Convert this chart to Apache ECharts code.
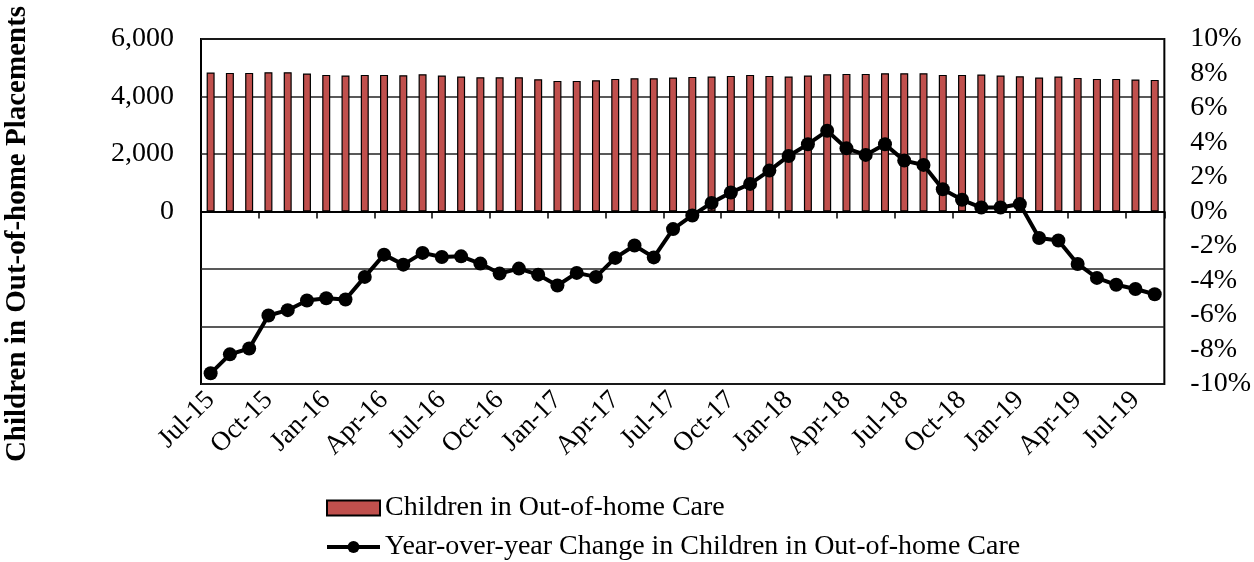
<!DOCTYPE html>
<html>
<head>
<meta charset="utf-8">
<script src="https://cdn.jsdelivr.net/npm/echarts@6/dist/echarts.min.js"></script>
<style>
  html, body { margin: 0; padding: 0; background: #fff; }
  #chart { width: 1254px; height: 562px; }
</style>
</head>
<body>
<div id="chart"></div>
<script>
var months = ['Jul-15', 'Aug-15', 'Sep-15', 'Oct-15', 'Nov-15', 'Dec-15',
  'Jan-16', 'Feb-16', 'Mar-16', 'Apr-16', 'May-16', 'Jun-16',
  'Jul-16', 'Aug-16', 'Sep-16', 'Oct-16', 'Nov-16', 'Dec-16',
  'Jan-17', 'Feb-17', 'Mar-17', 'Apr-17', 'May-17', 'Jun-17',
  'Jul-17', 'Aug-17', 'Sep-17', 'Oct-17', 'Nov-17', 'Dec-17',
  'Jan-18', 'Feb-18', 'Mar-18', 'Apr-18', 'May-18', 'Jun-18',
  'Jul-18', 'Aug-18', 'Sep-18', 'Oct-18', 'Nov-18', 'Dec-18',
  'Jan-19', 'Feb-19', 'Mar-19', 'Apr-19', 'May-19', 'Jun-19',
  'Jul-19', 'Aug-19'];

// children in out-of-home care
var children = [4834, 4821, 4821, 4845, 4845, 4800, 4751, 4730, 4751, 4751,
  4741, 4775, 4730, 4696, 4671, 4671, 4671, 4602, 4543, 4543,
  4567, 4613, 4637, 4637, 4661, 4682, 4696, 4717, 4751, 4717,
  4696, 4730, 4775, 4786, 4786, 4810, 4810, 4810, 4751, 4751,
  4765, 4730, 4706, 4661, 4696, 4647, 4613, 4613, 4592, 4578];

// year-over-year change, percent
var yoyChange = [-9.38, -8.28, -7.94, -6.03, -5.72, -5.16, -5.03, -5.10, -3.79, -2.50,
  -3.08, -2.40, -2.64, -2.60, -3.02, -3.60, -3.31, -3.66, -4.29, -3.56,
  -3.79, -2.69, -1.97, -2.66, -1.02, -0.23, 0.50, 1.10, 1.60, 2.37,
  3.22, 3.90, 4.68, 3.66, 3.28, 3.90, 2.95, 2.70, 1.29, 0.68,
  0.23, 0.23, 0.43, -1.54, -1.68, -3.04, -3.85, -4.25, -4.49, -4.80];

var leftTicks = {min: -6000, max: 6000, step: 2000};
var rightTicks = {min: -10, max: 10, step: 2};

var barName = 'Children in Out-of-home Care';
var lineName = 'Year-over-year Change in Children in Out-of-home Care';
var font = '"Liberation Serif", "Times New Roman", serif';

var chart = echarts.init(document.getElementById('chart'));

var option = {
  animation: false,
  textStyle: {fontFamily: font, color: '#000'},
  grid: {
    left: 201, right: 88, top: 39, bottom: 178,
    show: true, borderColor: '#000', borderWidth: 2,
    containLabel: false
  },
  graphic: [{
    type: 'text',
    x: 18, y: 234,
    rotation: Math.PI / 2,
    style: {
      text: 'Children in Out-of-home Placements',
      font: 'bold 29px ' + font,
      fill: '#000',
      align: 'center',
      verticalAlign: 'middle'
    }
  }],
  legend: {
    orient: 'vertical',
    left: 325, top: 494,
    padding: 0,
    itemWidth: 53, itemHeight: 15,
    itemGap: 11,
    textStyle: {fontFamily: font, fontSize: 28, lineHeight: 28, color: '#000'},
    data: [
      {name: barName, icon: 'rect'},
      {name: lineName, lineStyle: {width: 4, color: '#000'}}
    ]
  },
  xAxis: [{
    type: 'category',
    data: months,
    position: 'bottom',
    axisLine: {show: false, onZero: false},
    axisTick: {show: false},
    axisLabel: {
      interval: 2, rotate: 45, margin: 12,
      fontFamily: font, fontSize: 27, color: '#000'
    }
  }, {
    type: 'category',
    data: months,
    position: 'bottom',
    axisLine: {show: true, onZero: true, lineStyle: {color: '#000', width: 2}},
    axisTick: {show: true, interval: 2, length: 7, lineStyle: {color: '#000', width: 1.5}},
    axisLabel: {show: false}
  }],
  yAxis: [{
    type: 'value',
    min: leftTicks.min, max: leftTicks.max, interval: leftTicks.step,
    axisLine: {show: false},
    axisTick: {show: false},
    splitLine: {lineStyle: {color: '#222', width: 1.5}},
    axisLabel: {
      margin: 27, fontFamily: font, fontSize: 28, color: '#000',
      formatter: function (v) {
        return v < 0 ? '' : v.toLocaleString('en-US');
      }
    }
  }, {
    type: 'value',
    position: 'right',
    min: rightTicks.min, max: rightTicks.max, interval: rightTicks.step,
    axisLine: {show: false},
    axisTick: {show: false},
    splitLine: {show: false},
    axisLabel: {
      margin: 26, fontFamily: font, fontSize: 28, color: '#000',
      formatter: '{value}%'
    }
  }],
  series: [{
    name: barName,
    type: 'bar',
    xAxisIndex: 0,
    yAxisIndex: 0,
    data: children,
    barWidth: 8,
    itemStyle: {color: '#C0504D', borderColor: '#000', borderWidth: 1.2}
  }, {
    name: lineName,
    type: 'line',
    xAxisIndex: 0,
    yAxisIndex: 1,
    data: yoyChange,
    symbol: 'circle',
    symbolSize: 14,
    showAllSymbol: true,
    lineStyle: {color: '#000', width: 4},
    itemStyle: {color: '#000'},
    z: 5
  }]
};

chart.setOption(option);
</script>
</body>
</html>
